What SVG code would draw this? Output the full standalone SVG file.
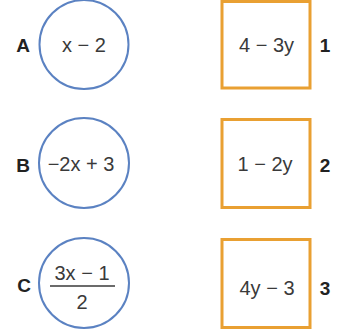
<svg xmlns="http://www.w3.org/2000/svg" width="337" height="333" viewBox="0 0 337 333">
<style>
.c{fill:#fff;stroke:#5b82c2;stroke-width:2}
.s{fill:#fff;stroke:#e9a032;stroke-width:3}
.e{font-family:"Liberation Sans",Arial,sans-serif;font-size:20px;fill:#3a3a3a;text-anchor:middle;dominant-baseline:central}
.l{font-family:"Liberation Sans",Arial,sans-serif;font-size:19px;font-weight:bold;fill:#222;text-anchor:middle;dominant-baseline:central}
</style>
<rect width="337" height="333" fill="#fff"/>
<g id="nodeA">
<circle class="c" cx="84" cy="44.5" r="44.5"/>
<text class="e" x="84" y="45">x − 2</text>
<text class="l" x="23" y="45">A</text>
</g>
<g id="nodeB">
<circle class="c" cx="84" cy="163" r="45"/>
<text class="e" x="81" y="164">−2x + 3</text>
<text class="l" x="23" y="165">B</text>
</g>
<g id="nodeC">
<circle class="c" cx="84" cy="283" r="45"/>
<text class="e" x="82" y="273">3x − 1</text>
<line x1="50" y1="286" x2="115" y2="286" stroke="#3a3a3a" stroke-width="1.5"/>
<text class="e" x="82" y="302">2</text>
<text class="l" x="24" y="285">C</text>
</g>
<g id="node1">
<rect class="s" x="222" y="1.5" width="88" height="86.5"/>
<text class="e" x="266.5" y="45">4 − 3y</text>
<text class="l" x="325" y="45">1</text>
</g>
<g id="node2">
<rect class="s" x="222" y="119.5" width="88" height="88"/>
<text class="e" x="265" y="164">1 − 2y</text>
<text class="l" x="325" y="165">2</text>
</g>
<g id="node3">
<rect class="s" x="222" y="239.5" width="88" height="88"/>
<text class="e" x="267" y="288">4y − 3</text>
<text class="l" x="325" y="288">3</text>
</g>
<g id="connectors"></g>
</svg>
